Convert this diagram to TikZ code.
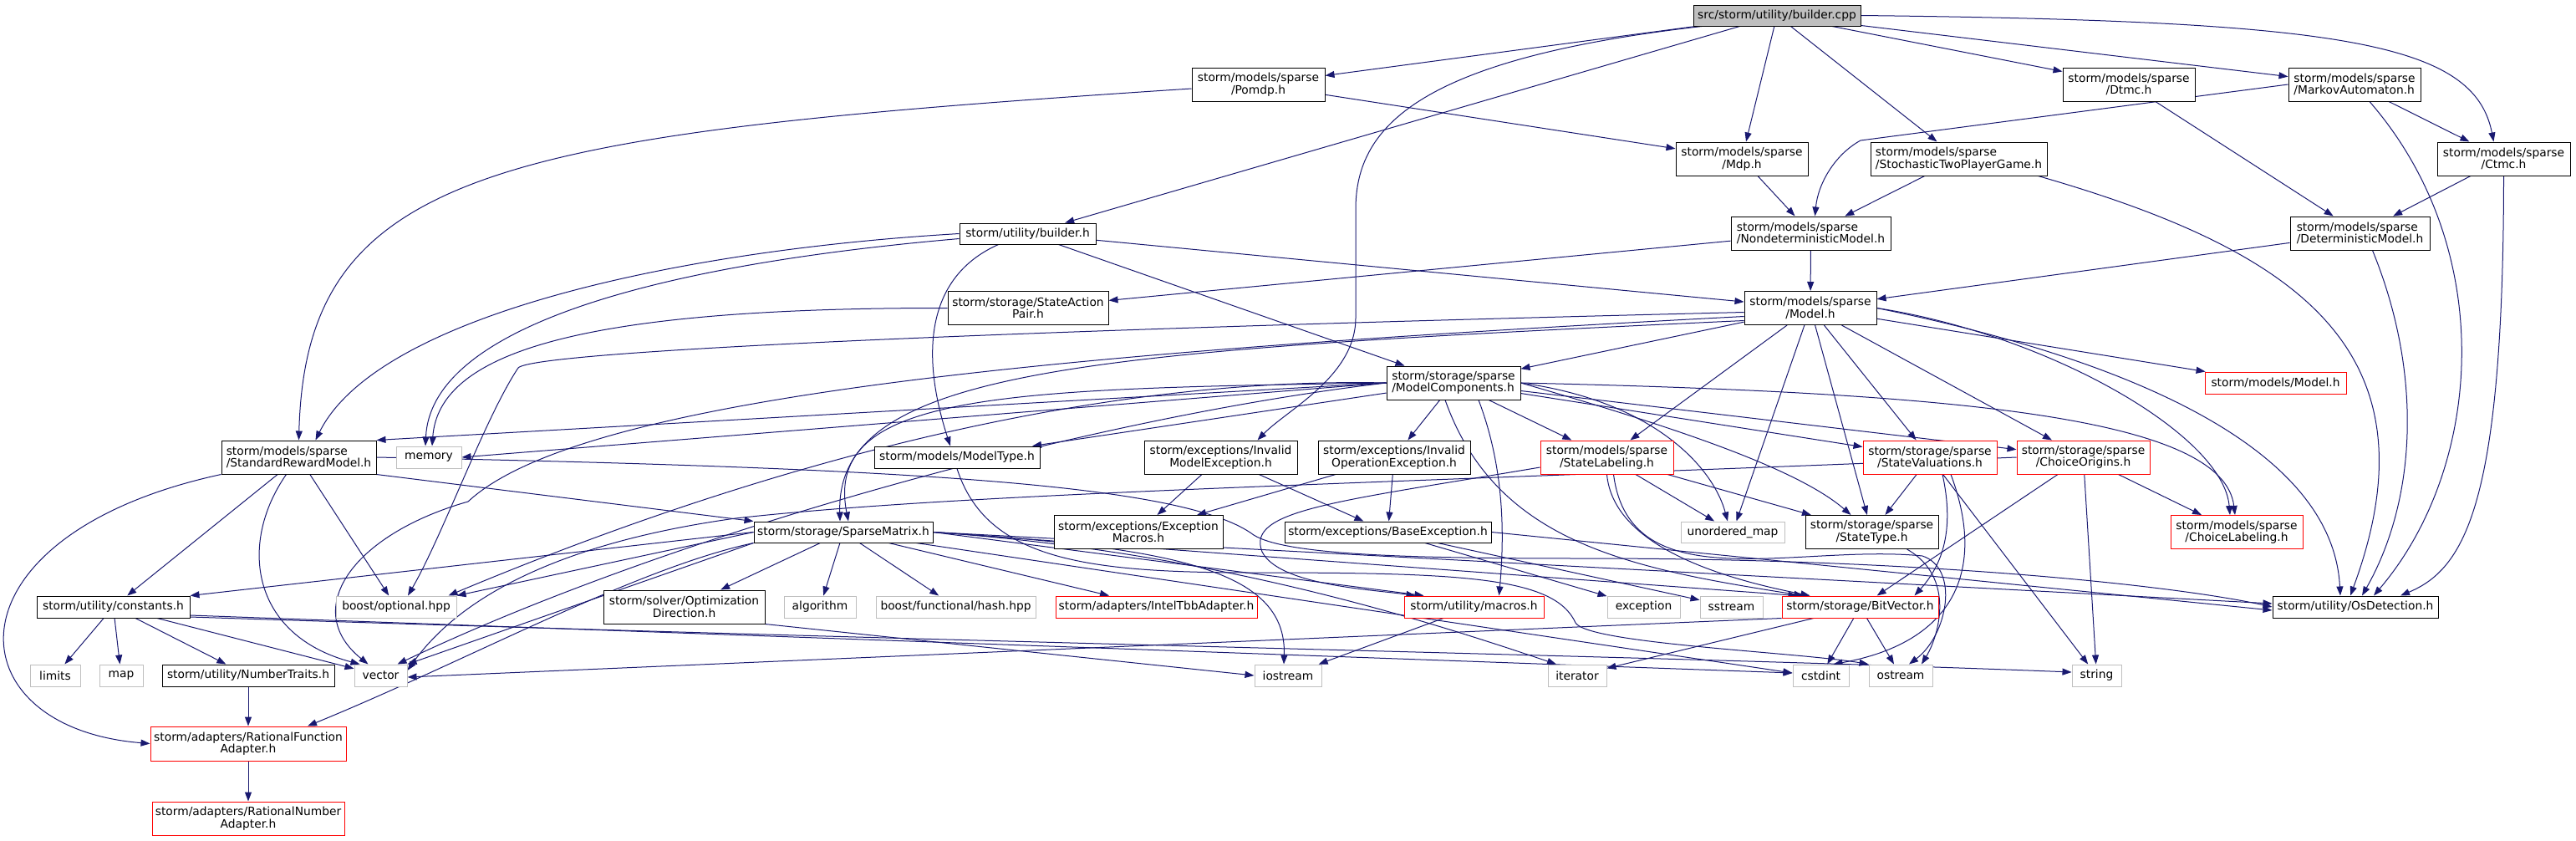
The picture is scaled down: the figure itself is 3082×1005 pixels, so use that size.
\documentclass[tikz,border=0pt]{standalone}
\usepackage{fontspec}
\setmainfont{DejaVu Sans}
\usetikzlibrary{arrows.meta}
\pgfdeclarelayer{bg}
\pgfsetlayers{bg,main}
\definecolor{edgec}{HTML}{191970}
\definecolor{grayb}{HTML}{BFBFBF}
\definecolor{redb}{HTML}{FF0000}
\tikzset{
  nd/.style={draw=black, fill=white, line width=1pt, inner sep=0pt, align=center, font=\fontsize{13.8}{14.5}\selectfont},
  rd/.style={nd, draw=redb},
  gd/.style={nd, draw=grayb},
  sz/.style 2 args={minimum width=#1pt, minimum height=#2pt},
  e/.style={draw=edgec, line width=1pt, -{Triangle[length=11pt,width=8pt]}},
}
\begin{document}
\begin{tikzpicture}[x=1pt,y=1pt]
\useasboundingbox (0,0) rectangle (3082,-1005);
% row 0
\node[nd, fill=grayb, sz={200}{25}] (cpp) at (2126,-18.5) {src/storm/utility/builder.cpp};
% row 1
\node[nd, sz={159}{40}] (pomdp) at (1505.5,-101) {storm/models/sparse\\/Pomdp.h};
\node[nd, sz={158}{40}] (dtmc) at (2547,-101) {storm/models/sparse\\/Dtmc.h};
\node[nd, sz={158}{40}, align=left] (markov) at (2817,-101) {storm/models/sparse\\/MarkovAutomaton.h};
% row 2
\node[nd, sz={158}{40}] (mdp) at (2084,-190) {storm/models/sparse\\/Mdp.h};
\node[nd, sz={211}{40}, align=left] (stpg) at (2343.5,-190) {storm/models/sparse\\/StochasticTwoPlayerGame.h};
\node[nd, sz={159}{40}] (ctmc) at (2995.5,-190) {storm/models/sparse\\/Ctmc.h};
% row 3
\node[nd, sz={163}{25}] (builderh) at (1229.5,-279.5) {storm/utility/builder.h};
\node[nd, sz={191}{40}, align=left] (nondet) at (2166.5,-279) {storm/models/sparse\\/NondeterministicModel.h};
\node[nd, sz={167}{40}, align=left] (detm) at (2823.5,-279) {storm/models/sparse\\/DeterministicModel.h};
% row 4
\node[nd, sz={192}{40}] (sap) at (1230,-368.5) {storm/storage/StateAction\\Pair.h};
\node[nd, sz={158}{40}] (model) at (2166,-368.5) {storm/models/sparse\\/Model.h};
% row 5
\node[nd, sz={160}{40}, align=left] (modelcomp) at (1739,-458) {storm/storage/sparse\\/ModelComponents.h};
\node[rd, sz={169}{26}] (smodel) at (2722.5,-458) {storm/models/Model.h};
% row 6
\node[nd, sz={185}{40}, align=left] (srm) at (357.5,-547) {storm/models/sparse\\/StandardRewardModel.h};
\node[gd, sz={78}{26}] (memory) at (513,-547) {memory};
\node[nd, sz={198}{26}] (modeltype) at (1145,-547) {storm/models/ModelType.h};
\node[nd, sz={183}{40}] (invmodel) at (1460.5,-547) {storm/exceptions/Invalid\\ModelException.h};
\node[nd, sz={182}{40}] (invop) at (1668,-547) {storm/exceptions/Invalid\\OperationException.h};
\node[rd, sz={159}{40}] (statelab) at (1922.5,-547) {storm/models/sparse\\/StateLabeling.h};
\node[rd, sz={160}{40}] (stateval) at (2309,-547) {storm/storage/sparse\\/StateValuations.h};
\node[rd, sz={159}{40}] (choiceorig) at (2492.5,-547) {storm/storage/sparse\\/ChoiceOrigins.h};
% row 7
\node[nd, sz={214}{25}] (sparsemat) at (1009,-636.5) {storm/storage/SparseMatrix.h};
\node[nd, sz={202}{40}] (excmacros) at (1362,-636.5) {storm/exceptions/Exception\\Macros.h};
\node[nd, sz={247}{25}] (baseexc) at (1660.5,-636.5) {storm/exceptions/BaseException.h};
\node[gd, sz={124}{25}] (umap) at (2073,-636.5) {unordered\_map};
\node[nd, sz={159}{40}] (statetype) at (2239.5,-636.5) {storm/storage/sparse\\/StateType.h};
\node[rd, sz={158}{40}] (choicelab) at (2676,-636.5) {storm/models/sparse\\/ChoiceLabeling.h};
% row 8
\node[nd, sz={183}{26}] (constants) at (135.5,-726) {storm/utility/constants.h};
\node[gd, sz={144}{26}] (optional) at (474,-726) {boost/optional.hpp};
\node[nd, sz={193}{40}] (optdir) at (818.5,-726) {storm/solver/Optimization\\Direction.h};
\node[gd, sz={86}{26}] (algorithm) at (981,-726) {algorithm};
\node[gd, sz={191}{26}] (hash) at (1143.5,-726) {boost/functional/hash.hpp};
\node[rd, sz={241}{26}] (inteltbb) at (1383.5,-726) {storm/adapters/IntelTbbAdapter.h};
\node[rd, sz={167}{26}] (macros) at (1763.5,-726) {storm/utility/macros.h};
\node[gd, sz={87}{26}] (exception) at (1966.5,-726) {exception};
\node[gd, sz={75}{26}] (sstream) at (2071.5,-726) {sstream};
\node[rd, sz={187}{26}] (bitvector) at (2225.5,-726) {storm/storage/BitVector.h};
\node[nd, sz={198}{26}] (osdet) at (2818,-726) {storm/utility/OsDetection.h};
% row 9
\node[gd, sz={60}{26}] (limits) at (66,-808) {limits};
\node[gd, sz={52}{26}] (map) at (145,-808) {map};
\node[nd, sz={206}{26}] (numtraits) at (297,-808) {storm/utility/NumberTraits.h};
\node[gd, sz={63}{26}] (vector) at (455.5,-808) {vector};
\node[gd, sz={80}{26}] (iostream) at (1541,-808) {iostream};
\node[gd, sz={70}{26}] (iterator) at (1887,-808) {iterator};
\node[gd, sz={67}{26}] (cstdint) at (2178.5,-808) {cstdint};
\node[gd, sz={76}{26}] (ostream) at (2274,-808) {ostream};
\node[gd, sz={59}{26}] (string) at (2508.5,-808) {string};
% rows 10-11
\node[rd, sz={234}{41}] (rfa) at (297,-889.5) {storm/adapters/RationalFunction\\Adapter.h};
\node[rd, sz={230}{40}] (rna) at (297,-979) {storm/adapters/RationalNumber\\Adapter.h};

\begin{pgfonlayer}{bg}
% builder.cpp
\draw[e] (cpp) -- (pomdp);
\draw[e] (cpp) -- (builderh);
\draw[e] (cpp) -- (mdp);
\draw[e] (cpp) -- (stpg);
\draw[e] (cpp) -- (dtmc);
\draw[e] (cpp) -- (markov);
\draw[e] (cpp.east) .. controls (2800,-25) and (2960,-50) .. ([xshift=-12pt]ctmc.north);
\draw[e] ([xshift=-90pt]cpp.south) .. controls (1700,-70) and (1622,-150) .. (1622,-250) -- (1622,-380) .. controls (1622,-450) and (1540,-490) .. ([xshift=44pt]invmodel.north);
% upper models
\draw[e] ([yshift=-5pt]pomdp.west) .. controls (600,-160) and (366,-200) .. (srm.north);
\draw[e] (pomdp) -- (mdp);
\draw[e] (mdp) -- (nondet);
\draw[e] (stpg) -- (nondet);
\draw[e] ([xshift=95pt]stpg.south) .. controls (2750,-300) and (2920,-420) .. ([xshift=-6pt]osdet.north);
\draw[e] (dtmc) -- (detm);
\draw[e] (markov.west) -- (2226,-168) .. controls (2195,-185) and (2175,-220) .. ([xshift=5pt]nondet.north);
\draw[e] (markov) -- (ctmc);
\draw[e] ([xshift=18pt]markov.south) .. controls (2990,-300) and (2970,-560) .. ([xshift=22pt]osdet.north);
\draw[e] (ctmc) -- (detm);
\draw[e] (ctmc.south) .. controls (2995,-600) and (2950,-680) .. ([xshift=54pt]osdet.north);
\draw[e] (detm) -- (model);
\draw[e] ([xshift=15pt]detm.south) .. controls (2900,-450) and (2890,-600) .. ([xshift=8pt]osdet.north);
\draw[e] (nondet) -- (model);
\draw[e] (nondet) -- (sap);
% builder.h
\draw[e] (builderh.west) .. controls (800,-300) and (450,-380) .. ([xshift=20pt]srm.north);
\draw[e] ([yshift=-6pt]builderh.west) .. controls (750,-320) and (515,-400) .. ([xshift=-4pt]memory.north);
\draw[e] ([xshift=-35pt]builderh.south) .. controls (1110,-330) and (1100,-420) .. ([xshift=-8pt]modeltype.north);
\draw[e] (builderh) -- (modelcomp);
\draw[e] (builderh) -- (model);
\draw[e] (sap.west) .. controls (700,-368) and (525,-420) .. ([xshift=4pt]memory.north);
% sparse/Model.h
\draw[e] (model) -- (modelcomp);
\draw[e] ([yshift=-5pt]model.west) .. controls (1200,-395) and (640,-420) .. (620,-440) .. controls (580,-500) and (530,-640) .. ([xshift=14pt]optional.north);
\draw[e] ([yshift=-10pt]model.west) .. controls (1300,-420) and (700,-470) .. (560,-600) .. controls (420,-640) and (360,-730) .. ([xshift=-15pt]vector.north);
\draw[e] ([yshift=-15pt]model.west) .. controls (1300,-420) and (1000,-440) .. ([xshift=-4pt]sparsemat.north);
\draw[e] (model) -- (statelab);
\draw[e] (model) -- (umap);
\draw[e] (model) -- (statetype);
\draw[e] (model) -- (stateval);
\draw[e] (model) -- (choiceorig);
\draw[e] (model.east) .. controls (2450,-400) and (2660,-520) .. ([xshift=-8pt]choicelab.north);
\draw[e] (model) -- (smodel);
\draw[e] (model.east) .. controls (2500,-420) and (2790,-520) .. ([xshift=-18pt]osdet.north);
% ModelComponents.h
\draw[e] (modelcomp.west) -- (srm.north east);
\draw[e] (modelcomp.west) -- (memory.east);
\draw[e] (modelcomp.west) .. controls (1300,-450) and (900,-560) .. ([xshift=-10pt]optional.north east);
\draw[e] (modelcomp.west) .. controls (1300,-500) and (800,-640) .. ([xshift=-12pt]vector.north east);
\draw[e] (modelcomp) -- (modeltype);
\draw[e] (modelcomp.west) .. controls (1200,-465) and (985,-470) .. ([xshift=6pt]sparsemat.north);
\draw[e] ([xshift=30pt]modelcomp.south) .. controls (1800,-560) and (1800,-640) .. ([xshift=30pt]macros.north);
\draw[e] (modelcomp) -- (invop);
\draw[e] ([xshift=-10pt]modelcomp.south) .. controls (1790,-650) and (1950,-680) .. ([xshift=-68pt]bitvector.north);
\draw[e] (modelcomp) -- (statelab);
\draw[e] (modelcomp.east) .. controls (1980,-480) and (2050,-560) .. ([xshift=-6pt]umap.north);
\draw[e] (modelcomp.east) .. controls (2000,-510) and (2150,-560) .. ([xshift=-25pt]statetype.north);
\draw[e] (modelcomp) -- (stateval);
\draw[e] (modelcomp) -- (choiceorig);
\draw[e] (modelcomp.east) .. controls (2350,-470) and (2660,-500) .. ([xshift=-2pt]choicelab.north);
% StandardRewardModel.h
\draw[e] (srm) -- (constants);
\draw[e] (srm.south west) .. controls (-70,-640) and (-60,-870) .. (rfa.west);
\draw[e] ([xshift=-15pt]srm.south) .. controls (285,-650) and (300,-760) .. ([xshift=-25pt]vector.north);
\draw[e] (srm) -- (optional);
\draw[e] (srm.south east) -- (sparsemat.north west);
\draw[e] (srm.east) .. controls (1100,-560) and (1420,-580) .. (1500,-640) .. controls (1540,-665) and (1700,-668) .. (1900,-668) .. controls (2300,-668) and (2600,-700) .. (osdet.west);
% exceptions
\draw[e] (invmodel) -- (excmacros);
\draw[e] (invmodel) -- (baseexc);
\draw[e] (invop) -- (excmacros);
\draw[e] (invop) -- (baseexc);
\draw[e] (baseexc) -- (exception);
\draw[e] (baseexc) -- (sstream);
\draw[e] (baseexc.east) -- ([yshift=-4pt]osdet.west);
% StateLabeling.h
\draw[e] ([yshift=-12pt]statelab.west) .. controls (1600,-600) and (1490,-610) .. (1510,-660) .. controls (1530,-700) and (1640,-705) .. ([xshift=-70pt]macros.north);
\draw[e] (statelab.south) .. controls (1930,-650) and (2050,-690) .. ([xshift=-60pt]bitvector.north);
\draw[e] ([xshift=8pt]statelab.south) .. controls (1950,-720) and (2150,-650) .. (2300,-665) .. controls (2345,-680) and (2330,-760) .. ([xshift=10pt]ostream.north);
\draw[e] (statelab) -- (umap);
\draw[e] (statelab) -- (statetype);
% StateValuations.h
\draw[e] (stateval) -- (statetype);
\draw[e] ([xshift=15pt]stateval.south) .. controls (2340,-640) and (2320,-680) .. ([xshift=65pt]bitvector.north);
\draw[e] ([xshift=25pt]stateval.south) .. controls (2380,-690) and (2330,-770) .. ([xshift=15pt]cstdint.north);
\draw[e] (stateval) -- (string);
% ChoiceOrigins.h
\draw[e] (choiceorig.west) .. controls (1600,-580) and (1150,-590) .. (880,-620) .. controls (700,-645) and (560,-700) .. ([yshift=6pt]vector.east);
\draw[e] (choiceorig) -- (bitvector);
\draw[e] (choiceorig) -- (string);
\draw[e] (choiceorig) -- (choicelab);
% SparseMatrix.h
\draw[e] (sparsemat.west) -- (constants.north east);
\draw[e] (sparsemat.west) -- (optional.north east);
\draw[e] (sparsemat.south west) -- (vector.north east);
\draw[e] (sparsemat.south west) .. controls (760,-680) and (560,-790) .. ([xshift=71pt]rfa.north);
\draw[e] (sparsemat) -- (optdir);
\draw[e] (sparsemat) -- (algorithm);
\draw[e] (sparsemat) -- (hash);
\draw[e] (sparsemat) -- (inteltbb);
\draw[e] (sparsemat.east) -- ([xshift=-60pt]macros.north);
\draw[e] (sparsemat.east) .. controls (1400,-655) and (1540,-680) .. ([xshift=-5pt]iostream.north);
\draw[e] (sparsemat.east) .. controls (1450,-660) and (1700,-740) .. ([xshift=-25pt]iterator.north);
\draw[e] (sparsemat) -- ([yshift=3pt]cstdint.west);
\draw[e] (sparsemat.east) -- ([xshift=-75pt]bitvector.north);
\draw[e] (sparsemat.east) -- ([yshift=4pt]osdet.west);
% ModelType.h, StateType.h
\draw[e] (modeltype.south) .. controls (1180,-670) and (1300,-685) .. (1500,-685) .. controls (1750,-685) and (1860,-690) .. (1885,-745) .. controls (1900,-770) and (2150,-780) .. (ostream.north west);
\draw[e] ([xshift=42pt]statetype.south) .. controls (2340,-690) and (2320,-760) .. ([xshift=25pt]ostream.north);
% constants.h
\draw[e] (constants) -- (limits);
\draw[e] (constants) -- (map);
\draw[e] (constants) -- (numtraits);
\draw[e] (constants) -- (vector);
\draw[e] ([yshift=-10pt]constants.east) -- ([yshift=3pt]cstdint.west);
\draw[e] ([yshift=-12pt]constants.east) .. controls (1200,-770) and (2000,-785) .. ([yshift=4pt]string.west);
% remaining
\draw[e] (numtraits) -- (rfa);
\draw[e] (rfa) -- (rna);
\draw[e] (optdir.south east) -- (iostream.west);
\draw[e] (macros) -- (iostream);
\draw[e] (bitvector.south west) -- ([yshift=-2pt]vector.east);
\draw[e] (bitvector) -- (iterator);
\draw[e] (bitvector) -- (cstdint);
\draw[e] (bitvector) -- (ostream);
\end{pgfonlayer}
\end{tikzpicture}
\end{document}
